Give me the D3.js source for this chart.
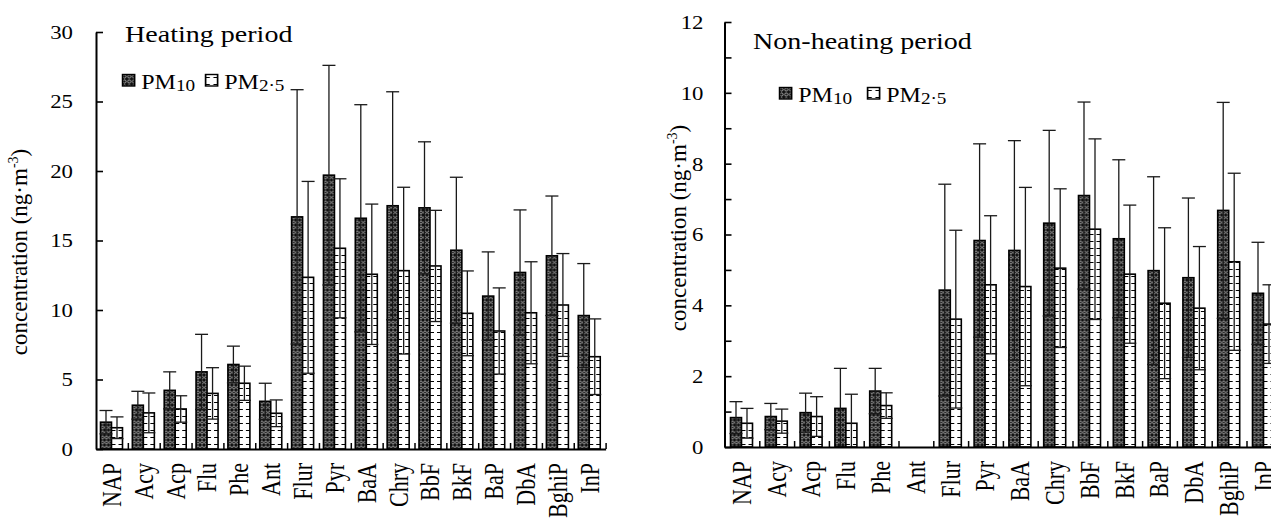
<!DOCTYPE html>
<html><head><meta charset="utf-8">
<script src="https://cdn.jsdelivr.net/npm/d3@7"></script>
<style>
body{margin:0;background:#fff}
svg{display:block}
</style>
</head><body>
<svg id="c" width="1271" height="520" font-family="Liberation Serif, Tinos, Times New Roman, Times, serif"></svg>
<script>
// ---------------- data ----------------
const categories = ["NAP","Acy","Acp","Flu","Phe","Ant","Flur","Pyr","BaA","Chry","BbF","BkF","BaP","DbA","BghiP","InP"];
const seriesNames = ["PM10","PM2.5"];

const heatingPM10   = [1.93, 3.15, 4.22, 5.55, 6.08, 3.43, 16.7, 19.7, 16.6, 17.5, 17.35, 14.3, 11.0, 12.7, 13.9, 9.6];
const heatingPM10SD = [0.84, 1.0, 1.33, 2.7, 1.32, 1.3, 9.15, 7.9, 8.17, 8.2, 4.75, 5.25, 3.18, 4.5, 4.3, 3.74];
const heatingPM25   = [1.53, 2.6, 2.88, 4.0, 4.73, 2.57, 12.35, 14.44, 12.57, 12.83, 13.17, 9.76, 8.49, 9.8, 10.36, 6.64];
const heatingPM25SD = [0.78, 1.43, 0.95, 1.85, 1.23, 0.96, 6.9, 5.0, 5.05, 6.0, 4.0, 3.05, 3.1, 3.67, 3.7, 2.72];

const nonHeatingPM10   = [0.83, 0.86, 0.97, 1.09, 1.58, 0, 4.43, 5.83, 5.55, 6.32, 7.1, 5.88, 4.98, 4.78, 6.68, 4.34];
const nonHeatingPM10SD = [0.45, 0.37, 0.55, 1.13, 0.64, 0, 2.99, 2.73, 3.1, 2.62, 2.64, 2.23, 2.65, 2.25, 3.05, 1.44];
const nonHeatingPM25   = [0.67, 0.73, 0.86, 0.67, 1.17, 0, 3.61, 4.58, 4.53, 5.05, 6.15, 4.88, 4.06, 3.92, 5.23, 3.47];
const nonHeatingPM25SD = [0.42, 0.34, 0.56, 0.82, 0.36, 0, 2.51, 1.95, 2.8, 2.24, 2.55, 1.95, 2.13, 1.74, 2.5, 1.11];

const heatingTicks = [0, 5, 10, 15, 20, 25, 30];
const heatingTickLabels = [0, 5, 10, 15, 20, 25, 30];
const nonHeatingTicks = [0, 1, 2, 3, 4, 5, 6, 7, 8, 9, 10, 11, 12];
const nonHeatingTickLabels = [0, 2, 4, 6, 8, 10, 12];

// ---------------- setup ----------------
const svg = d3.select("#c");
const defs = svg.append("defs");
const SX = 1.2;      // horizontal stretch of the original picture's text
const BAR_W = 11;

// PM10: dark with light chain pattern
const p10 = defs.append("pattern").attr("id","p10").attr("patternUnits","userSpaceOnUse")
  .attr("width",4).attr("height",5);
p10.append("rect").attr("width",4).attr("height",5).attr("fill","#111");
p10.append("ellipse").attr("cx",2).attr("cy",2.5).attr("rx",1.3).attr("ry",1.6)
  .attr("fill","none").attr("stroke","#bdbdbd").attr("stroke-width",0.8);

// PM2.5: white with horizontal dashes at both edges
const p25 = defs.append("pattern").attr("id","p25").attr("patternUnits","userSpaceOnUse")
  .attr("width",BAR_W).attr("height",7);
p25.append("rect").attr("width",BAR_W).attr("height",7).attr("fill","#fff");
p25.append("line").attr("x1",0).attr("x2",4).attr("y1",3.5).attr("y2",3.5).attr("stroke","#000").attr("stroke-width",1);
p25.append("line").attr("x1",7).attr("x2",BAR_W).attr("y1",3.5).attr("y2",3.5).attr("stroke","#000").attr("stroke-width",1);

function drawChart(c) {
  const g = svg.append("g");
  const n = categories.length;
  const x = d3.scaleBand().domain(categories).range([c.x0, c.x0 + n * c.step]).padding(0);
  const xs = d3.scaleBand().domain(seriesNames).range([c.barOff, c.barOff + 2 * BAR_W]).padding(0);
  const y = d3.scaleLinear().domain([0, c.max]).range([c.yBottom, c.yTop]);
  const xi = d3.scaleLinear().domain([0, n]).range([c.x0, c.x0 + n * c.step]);

  const data = categories.map((cat, i) => ({
    cat,
    vals: [
      {s: "PM10", m: c.m10[i], sd: c.s10[i]},
      {s: "PM2.5", m: c.m25[i], sd: c.s25[i]}
    ]
  }));

  // bars
  const bars = g.append("g");
  const grp = bars.selectAll("g").data(data).join("g")
    .attr("transform", d => `translate(${x(d.cat)},0)`);
  grp.selectAll("g").data(d => d.vals.filter(v => v.m > 0)).join("g")
    .attr("transform", v => `translate(${xs(v.s)},0)`)
    .append("rect")
    .attr("x", 0).attr("width", xs.bandwidth())
    .attr("y", v => y(v.m)).attr("height", v => y(0) - y(v.m))
    .attr("fill", v => v.s === "PM10" ? "url(#p10)" : "url(#p25)")
    .attr("stroke", "#000").attr("stroke-width", 1.6);

  // error bars
  const errs = g.append("g").attr("stroke", "#1a1a1a").attr("stroke-width", 1.3);
  const eg = errs.selectAll("g").data(data).join("g")
    .attr("transform", d => `translate(${x(d.cat)},0)`)
    .selectAll("g").data(d => d.vals.filter(v => v.m > 0)).join("g")
    .attr("transform", v => `translate(${xs(v.s) + xs.bandwidth() / 2},0)`);
  eg.append("line").attr("x1", 0).attr("x2", 0)
    .attr("y1", v => y(Math.max(0, v.m - v.sd))).attr("y2", v => y(v.m + v.sd));
  eg.append("line").attr("x1", -6.5).attr("x2", 6.5)
    .attr("y1", v => y(v.m + v.sd)).attr("y2", v => y(v.m + v.sd));
  eg.filter(v => v.m - v.sd > 0.05).append("line").attr("x1", -6.5).attr("x2", 6.5)
    .attr("y1", v => y(v.m - v.sd)).attr("y2", v => y(v.m - v.sd));

  // y axis
  const ya = g.append("g").attr("transform", `translate(${c.x0},0)`)
    .call(d3.axisLeft(y).tickValues(c.ticks).tickSize(-7).tickSizeOuter(0)
      .tickPadding(c.tickPad / SX)
      .tickFormat(d => c.tickLabels.includes(d) ? d : ""))
    .attr("font-family", null).attr("font-size", null);
  ya.select(".domain").attr("stroke", "#000").attr("stroke-width", 2);
  ya.selectAll(".tick line").attr("stroke", "#000").attr("stroke-width", 1.6);
  ya.selectAll(".tick text").attr("font-size", 19).attr("fill", "#000")
    .attr("transform", `scale(${SX},1)`).attr("dy", "0.34em");

  // x axis
  const xa = g.append("g").attr("transform", `translate(0,${c.yBottom})`)
    .call(d3.axisBottom(xi).tickValues(categories.map((_, i) => i + 1))
      .tickSize(-6).tickSizeOuter(0).tickFormat(""));
  xa.select(".domain").attr("stroke", "#000").attr("stroke-width", 2.2);
  xa.selectAll(".tick line").attr("stroke", "#000").attr("stroke-width", 1.5);

  // x labels
  g.append("g").selectAll("text").data(categories).join("text")
    .attr("transform", d => `translate(${x(d) + x.bandwidth() / 2},${c.yBottom + 14}) rotate(-90) scale(1,${SX})`)
    .attr("text-anchor", "end").attr("dy", "0.34em")
    .attr("font-size", 22).text(d => d);

  // y label
  const yl = g.append("text")
    .attr("transform", `translate(${c.ylabX},${c.ylabY}) rotate(-90)`)
    .attr("text-anchor", "middle").attr("font-size", 23);
  yl.append("tspan").text("concentration (ng·m");
  yl.append("tspan").attr("dy", -9).attr("font-size", 14).text("-3");
  yl.append("tspan").attr("dy", 9).text(")");

  // title
  g.append("text").attr("transform", `translate(${c.titleX},${c.titleY}) scale(1.22,1)`)
    .attr("font-size", 23).text(c.title);

  // legend
  const lg = g.append("g").attr("transform", `translate(${c.legX},${c.legY}) scale(${SX},1)`);
  const items = [
    {s: "PM10", fill: "url(#p10)", main: "PM", sub: "10", off: 0},
    {s: "PM2.5", fill: "url(#p25)", main: "PM", sub: "2·5", off: c.leg2 / SX}
  ];
  const it = lg.selectAll("g").data(items).join("g").attr("transform", d => `translate(${d.off},0)`);
  it.append("rect").attr("x", 0.5).attr("y", 0.5).attr("width", 10).attr("height", 11.5)
    .attr("fill", d => d.fill).attr("stroke", "#000").attr("stroke-width", 1.4);
  const lt = it.append("text").attr("x", 16).attr("y", 14.5).attr("font-size", 20);
  lt.append("tspan").text(d => d.main);
  lt.append("tspan").attr("dy", 3).attr("font-size", 16).text(d => d.sub);
}

drawChart({
  title: "Heating period", titleX: 125, titleY: 42,
  x0: 96, step: 31.85, barOff: 4.5,
  yBottom: 449, yTop: 32, max: 30,
  ticks: heatingTicks, tickLabels: heatingTickLabels, tickPad: 23,
  m10: heatingPM10, s10: heatingPM10SD, m25: heatingPM25, s25: heatingPM25SD,
  ylabX: 27, ylabY: 252,
  legX: 122, legY: 74, leg2: 83
});

drawChart({
  title: "Non-heating period", titleX: 753, titleY: 49,
  x0: 724.5, step: 34.8, barOff: 6,
  yBottom: 447, yTop: 22, max: 12,
  ticks: nonHeatingTicks, tickLabels: nonHeatingTickLabels, tickPad: 21,
  m10: nonHeatingPM10, s10: nonHeatingPM10SD, m25: nonHeatingPM25, s25: nonHeatingPM25SD,
  ylabX: 686, ylabY: 228,
  legX: 779, legY: 87, leg2: 88
});
</script>
</body></html>
